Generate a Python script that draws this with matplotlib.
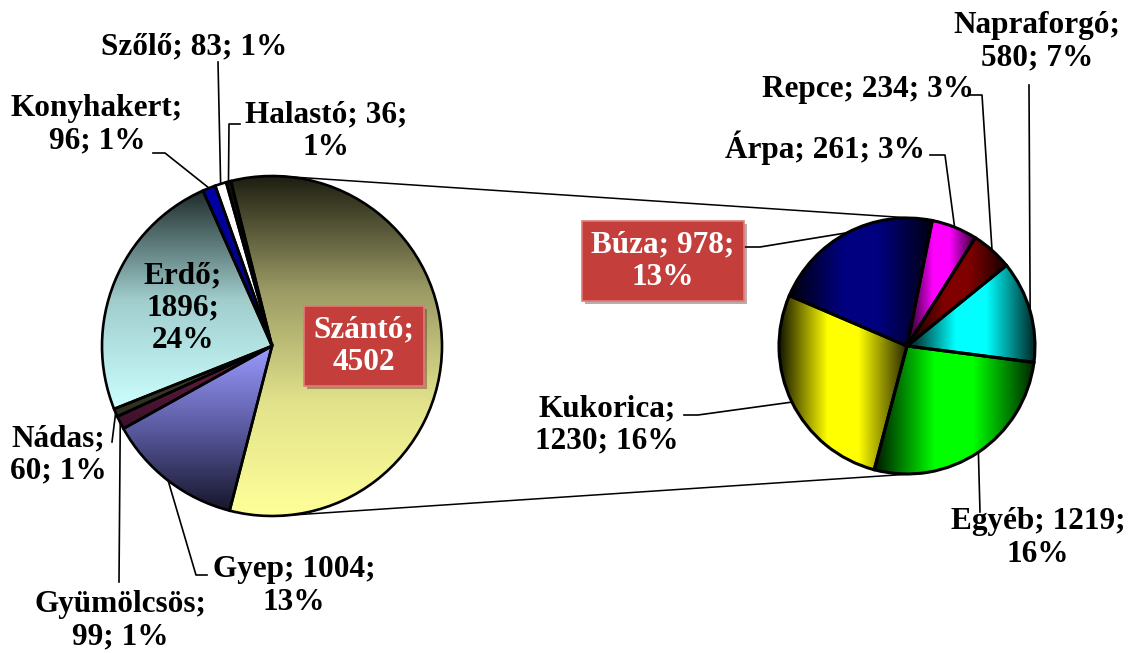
import numpy as np
import matplotlib.pyplot as plt
from matplotlib.colors import LinearSegmentedColormap, to_rgb
import matplotlib.patheffects as pe

W, H = 1135, 653

# land use (main pie), clockwise from the top
land_labels = ["Szántó", "Gyep", "Gyümölcsös", "Nádas", "Erdő", "Konyhakert", "Szőlő", "Halastó"]
land_values = [4502, 1004, 99, 60, 1896, 96, 83, 36]
land_pct = [None, 13, 1, 1, 24, 1, 1, 1]

# breakdown of Szántó (second pie)
crop_labels = ["Árpa", "Repce", "Napraforgó", "Egyéb", "Kukorica", "Búza"]
crop_values = [261, 234, 580, 1219, 1230, 978]
crop_pct = [3, 3, 7, 16, 16, 13]


def img(x, y):
    # picture coords (y down) -> axes coords (y up)
    return x, H - y


# label layout: template, text centre, elbow points (picture coords), boxed
layout = {
    "Szántó":     ("{n};\n{v}",        (364, 346), [], True),
    "Gyep":       ("{n}; {v};\n{p}%",  (294, 586), [(207, 575), (196, 575)], False),
    "Gyümölcsös": ("{n};\n{v}; {p}%",  (120, 621), [(119, 582)], False),
    "Nádas":      ("{n};\n{v}; {p}%",  (58, 455), [(112, 442)], False),
    "Erdő":       ("{n};\n{v};\n{p}%", (183, 308), None, False),
    "Konyhakert": ("{n};\n{v}; {p}%",  (97, 125), [(153, 153), (165, 153)], False),
    "Szőlő":      ("{n}; {v}; {p}%",   (194, 47), [(218, 62)], False),
    "Halastó":    ("{n}; {v};\n{p}%",  (326, 131), [(240, 124), (229, 124)], False),
    "Árpa":       ("{n}; {v}; {p}%",   (825, 148), [(930, 155), (945, 155)], False),
    "Repce":      ("{n}; {v}; {p}%",   (868, 90), [(968, 95), (982, 95)], False),
    "Napraforgó": ("{n};\n{v}; {p}%",  (1037, 42), [(1029, 85)], False),
    "Egyéb":      ("{n}; {v};\n{p}%",  (1038, 538), [(980, 512)], False),
    "Kukorica":   ("{n};\n{v}; {p}%",  (607, 425), [(684, 415), (698, 415)], False),
    "Búza":       ("{n}; {v};\n{p}%",  (663, 261), [(745, 247), (760, 247)], True),
}

left_c, left_r = img(272, 346), 170
right_c, right_r = img(907, 346), 128

# vertical gradients, bottom -> top
land_cmaps = [
    ["#ffff99", "#e2e28c", "#9a9a64", "#1e1e12"],
    ["#15152a", "#5a5aa0", "#9a9aff"],
    ["#3a1028", "#6e2048"],
    ["#2c2c1e", "#4a4a34"],
    ["#ccffff", "#a0cccc", "#1e2b2b"],
    ["#000070", "#0000a8"],
    ["#ffffff", "#ffffff"],
    ["#000000", "#101010"],
]
crop_colors = ["#ff00ff", "#800000", "#00ffff", "#00ff00", "#ffff00", "#000080"]

fig = plt.figure(figsize=(W / 100, H / 100), dpi=100)
ax = fig.add_axes([0, 0, 1, 1])

lwedges, _ = ax.pie(land_values, startangle=104, counterclock=False,
                    center=left_c, radius=left_r,
                    wedgeprops=dict(edgecolor="black", linewidth=1.9))
rwedges, _ = ax.pie(crop_values, startangle=78.6, counterclock=False,
                    center=right_c, radius=right_r,
                    wedgeprops=dict(edgecolor="black", linewidth=2.2))


def shade(wedge, cmap, vertical):
    x0, y0, x1, y1 = wedge.get_path().get_extents().extents
    t = np.linspace(0, 1, 256)
    g = t[:, None] if vertical else t[None, :]
    im = ax.imshow(g, cmap=cmap, extent=(x0, x1, y0, y1), origin="lower",
                   aspect="auto", interpolation="bilinear", zorder=1)
    im.set_clip_path(wedge)
    wedge.set_facecolor("none")
    wedge.set_zorder(3)


for w, cols in zip(lwedges, land_cmaps):
    shade(w, LinearSegmentedColormap.from_list("g", cols), True)

for w, c in zip(rwedges, crop_colors):
    base = np.array(to_rgb(c))
    cm = LinearSegmentedColormap.from_list(
        "h", [(0, base * 0.08), (0.38, base), (0.62, base), (1, base * 0.15)])
    shade(w, cm, False)

# connector lines: outer tangents of the two pies
d = right_c[0] - left_c[0]
a = np.arcsin((left_r - right_r) / d)
for s in (1, -1):
    n = np.array([np.sin(a), s * np.cos(a)])
    p1 = np.array(left_c) + left_r * n
    p2 = np.array(right_c) + right_r * n
    ax.plot([p1[0], p2[0]], [p1[1], p2[1]], color="black", lw=1.1, zorder=2)

font = dict(family="Liberation Serif", weight="bold", fontsize=22.5)


def put_labels(wedges, labels, values, pcts, center, r):
    for w, n, v, p in zip(wedges, labels, values, pcts):
        tmpl, pos, elbow, boxed = layout[n]
        tx, ty = img(*pos)
        txt = tmpl.format(n=n, v=v, p=p)
        if boxed:
            t = ax.text(tx, ty, txt, ha="center", va="center", color="white",
                        linespacing=1.15, zorder=6, **font,
                        bbox=dict(boxstyle="square,pad=0.3", facecolor="#c43f3b",
                                  edgecolor="#e27a76", linewidth=1.2))
            t.get_bbox_patch().set_path_effects(
                [pe.SimplePatchShadow(offset=(2, -2), alpha=0.35), pe.Normal()])
        else:
            ax.text(tx, ty, txt, ha="center", va="center", color="black",
                    linespacing=1.15, zorder=6, **font)
        if elbow:
            mid = np.deg2rad((w.theta1 + w.theta2) / 2)
            pts = [img(*q) for q in elbow]
            pts.append((center[0] + r * np.cos(mid), center[1] + r * np.sin(mid)))
            xs, ys = zip(*pts)
            ax.plot(xs, ys, color="black", lw=1.2, zorder=4)


put_labels(lwedges, land_labels, land_values, land_pct, left_c, left_r)
put_labels(rwedges, crop_labels, crop_values, crop_pct, right_c, right_r)

ax.set_xlim(0, W)
ax.set_ylim(0, H)
ax.set_aspect("equal")
ax.axis("off")

fig.savefig("out.png", dpi=100, facecolor="white")
